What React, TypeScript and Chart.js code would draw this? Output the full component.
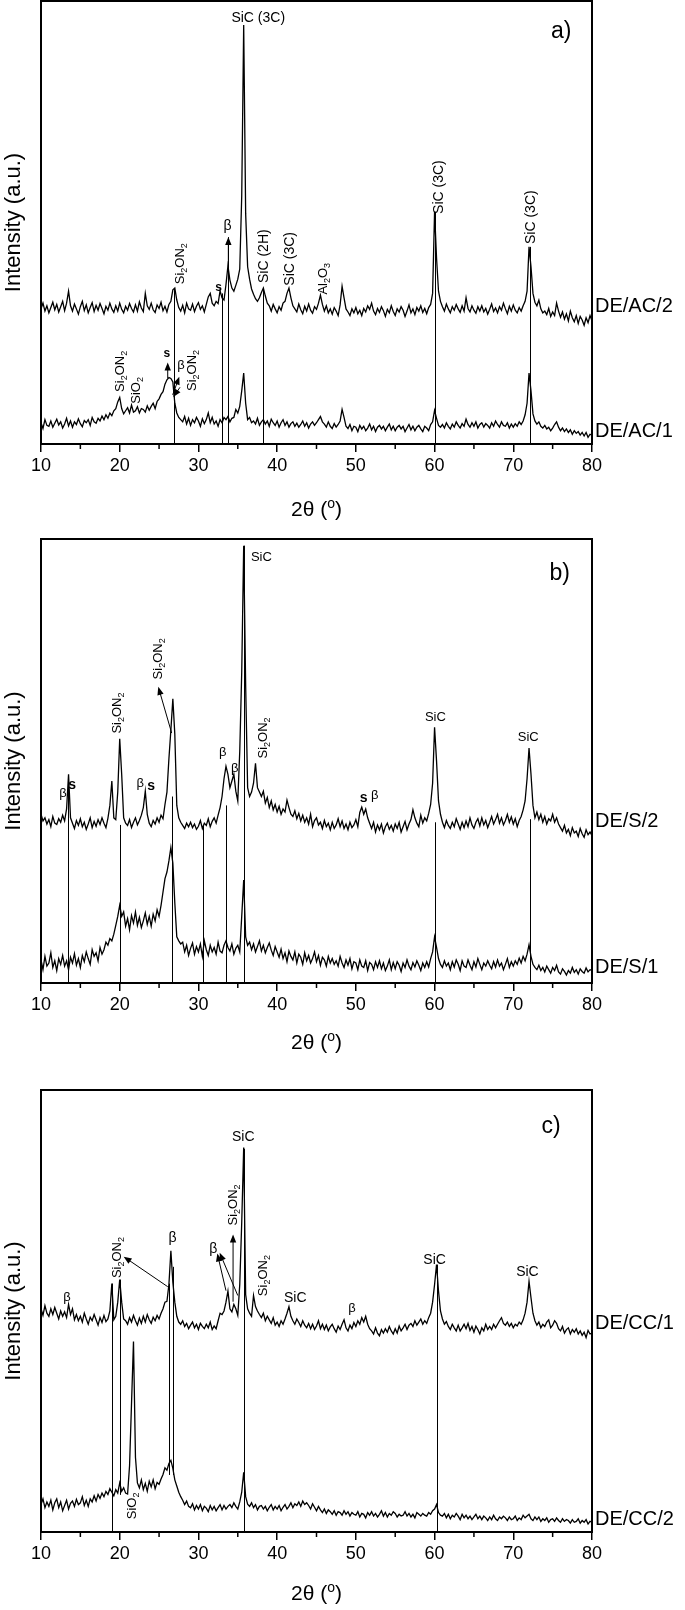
import React, { useEffect, useRef } from "react";
import { Chart, registerables } from "chart.js";

Chart.register(...registerables);

// 2θ grid of the digitised patterns: 10° to 80° in 0.25° steps (281 points)
const TWO_THETA_START = 10;
const TWO_THETA_STEP = 0.25;
const X_TICKS_STEP = 10;

// ---------- panel a) ----------
const DE_AC_2 = [
  305, 318, 300, 312, 296, 308, 320, 303, 315, 298, 310, 322, 301, 318, 345, 312,
  300, 316, 305, 293, 310, 322, 301, 314, 296, 308, 319, 299, 313, 302, 317, 306,
  294, 311, 302, 318, 305, 297, 312, 300, 318, 304, 296, 311, 302, 317, 306, 298,
  314, 300, 321, 307, 299, 340, 312, 304, 318, 303, 297, 314, 306, 320, 301, 311,
  298, 315, 322, 348, 352, 325, 308, 300, 313, 296, 318, 305, 302, 316, 299, 311,
  319, 304, 312, 298, 315, 332, 340, 318, 312, 322, 317, 346, 330, 325, 360, 402,
  370, 352, 345, 358, 372, 395, 560, 946, 520, 400, 372, 350, 338, 328, 322, 330,
  342, 352, 334, 318, 312, 300, 315, 305, 296, 310, 302, 318, 322, 340, 352, 330,
  312, 305, 298, 316, 303, 294, 311, 300, 316, 302, 295, 310, 304, 318, 336, 315,
  300, 312, 296, 305, 293, 308, 300, 290, 314, 356, 330, 305, 298, 290, 305, 296,
  308, 294, 302, 290, 306, 298, 312, 304, 318, 300, 292, 306, 297, 310, 301, 288,
  304, 296, 312, 299, 290, 305, 298, 310, 302, 288, 300, 314, 296, 305, 292, 308,
  300, 312, 297, 306, 294, 308, 315, 340, 524, 420, 345, 322, 310, 300, 316, 305,
  296, 310, 302, 315, 305, 297, 312, 300, 330, 306, 298, 312, 302, 295, 310, 300,
  312, 298, 306, 293, 304, 316, 299, 307, 296, 310, 302, 318, 305, 294, 311, 300,
  314, 302, 296, 308, 300, 312, 322, 345, 445, 400, 340, 320, 312, 325, 305, 296,
  300, 292, 306, 288, 298, 290, 318, 300, 286, 298, 282, 294, 278, 300, 285, 276,
  290, 272, 288, 280, 268, 285, 274, 290, 278,
];
const DE_AC_1 = [
  48, 35, 55, 42, 40, 52, 38, 47, 56, 43, 50, 36, 45, 58, 41, 52,
  38, 50, 44, 57, 46, 39, 53, 48, 55, 42, 60, 50, 47, 58, 52, 63,
  55, 66, 58, 70, 64, 75, 80, 95, 105, 80, 68, 75, 82, 70, 88, 72,
  75, 84, 70, 80, 78, 72, 86, 76, 85, 92, 80, 96, 102, 112, 118, 135,
  145, 150, 148, 140, 92, 70, 60, 55, 50, 62, 45, 58, 42, 55, 48, 60,
  52, 40, 57, 46, 55, 70, 48, 60, 45, 52, 40, 55, 48, 60, 55, 62,
  50, 58, 60, 78, 70, 85, 120, 160, 92, 55, 60, 48, 52, 45, 58, 42,
  50, 55, 45, 52, 40, 56, 48, 42, 52, 38, 48, 55, 42, 50, 38, 46,
  50, 40, 47, 38, 44, 52, 40, 48, 36, 45, 50, 42, 48, 55, 62, 50,
  45, 38, 50, 40, 35, 46, 38, 44, 52, 78, 60, 40, 35, 44, 30, 40,
  38, 28, 42, 34, 40, 30, 36, 45, 32, 40, 28, 38, 42, 34, 40, 30,
  38, 45, 32, 40, 30, 38, 42, 34, 40, 28, 36, 44, 32, 40, 30, 38,
  42, 34, 28, 40, 36, 30, 44, 50, 76, 58, 42, 38, 44, 36, 48, 40,
  34, 45, 38, 50, 42, 36, 46, 40, 56, 44, 38, 48, 40, 50, 36, 44,
  48, 38, 46, 42, 36, 48, 40, 52, 44, 38, 50, 42, 40, 48, 36, 45,
  38, 46, 40, 50, 44, 52, 66, 92, 160, 120, 68, 52, 45, 50, 40, 36,
  42, 34, 38, 30, 36, 44, 50, 38, 30, 36, 28, 34, 26, 32, 22, 30,
  24, 28, 20, 26, 18, 26, 15, 22, 20,
];

// ---------- panel b) ----------
const DE_S_2 = [
  380, 365, 372, 358, 368, 352, 375, 360, 357, 370, 362, 378, 365, 392, 470, 372,
  360, 348, 366, 355, 370, 352, 362, 346, 358, 372, 350, 364, 353, 368, 357, 372,
  360, 350, 371, 400, 455, 372, 368, 430, 550, 470, 372, 360, 355, 368, 350, 362,
  372, 356, 366, 378, 395, 432, 380, 360, 352, 366, 358, 372, 362, 378, 370, 402,
  430, 505, 570, 640, 560, 400, 372, 362, 355, 348, 360, 352, 362, 350, 358, 346,
  353, 366, 348, 360, 355, 370, 352, 364, 372, 360, 378, 395, 420, 460, 488, 470,
  440, 455, 470, 432, 410, 522, 700, 985, 670, 440, 420, 430, 450, 495, 440, 430,
  420, 432, 405, 418, 395, 410, 390, 402, 385, 398, 380, 392, 385, 412, 395, 380,
  375, 388, 370, 382, 365, 378, 362, 372, 358, 380, 352, 366, 372, 356, 362, 348,
  366, 352, 360, 345, 362, 348, 356, 370, 352, 365, 348, 358, 345, 362, 350, 356,
  368, 352, 384, 396, 380, 392, 372, 360, 348, 362, 340, 356, 345, 358, 338, 352,
  360, 346, 355, 342, 358, 348, 362, 340, 352, 364, 345, 358, 368, 390, 372, 360,
  352, 378, 360, 372, 365, 382, 402, 450, 576, 500, 410, 380, 362, 350, 366, 355,
  348, 362, 352, 370, 358, 346, 362, 350, 365, 352, 372, 356, 348, 362, 370, 354,
  372, 356, 366, 350, 362, 375, 358, 368, 380, 360, 372, 356, 366, 380, 362, 374,
  358, 370, 352, 366, 375, 390, 410, 460, 529, 470, 400, 372, 385, 368, 380, 362,
  375, 358, 370, 365, 380, 362, 372, 358, 350, 342, 355, 338, 346, 332, 350, 338,
  342, 330, 348, 336, 328, 345, 334, 340, 332,
];
const DE_S_1 = [
  52, 30, 60, 38, 45, 68, 35, 50, 28, 55, 42, 62, 38, 50, 30, 58,
  45, 66, 40, 55, 35, 62, 48, 70, 55, 42, 75, 60, 68, 50, 80, 65,
  75, 92, 85, 100, 95, 110, 130, 150, 175, 150, 160, 128, 145, 120, 152, 135,
  160, 130, 148, 125, 140, 158, 132, 150, 128, 155, 140, 165, 150, 175, 205, 235,
  250, 275, 305, 270, 180, 104, 95, 88, 92, 70, 85, 62, 78, 90, 65, 82,
  70, 88, 60, 95, 75, 62, 85, 70, 80, 65, 92, 72, 68, 85, 95, 80,
  72, 88, 65, 78, 85, 70, 150, 232, 104, 85, 92, 75, 88, 70, 82, 95,
  72, 85, 68, 80, 90, 74, 62, 82, 70, 58, 76, 55, 68, 48, 72, 60,
  52, 70, 45, 65, 58, 42, 68, 50, 62, 45, 55, 70, 48, 62, 40, 58,
  52, 38, 60, 45, 55, 42, 50, 38, 60, 45, 35, 52, 40, 55, 32, 48,
  45, 30, 52, 38, 35, 50, 28, 46, 42, 30, 48, 35, 50, 32, 45, 28,
  38, 52, 30, 46, 32, 48, 40, 26, 45, 35, 52, 38, 30, 46, 36, 50,
  40, 28, 45, 35, 48, 36, 55, 70, 104, 80, 55, 42, 35, 50, 38, 45,
  30, 48, 36, 52, 42, 28, 50, 38, 35, 52, 40, 30, 48, 36, 55, 42,
  30, 45, 38, 50, 40, 32, 48, 36, 52, 38, 45, 30, 42, 55, 35, 48,
  38, 50, 42, 56, 45, 60, 50, 65, 86, 60, 42, 35, 30, 40, 28, 35,
  25, 38, 30, 22, 35, 28, 40, 25, 20, 32, 26, 18, 28, 22, 35, 24,
  30, 20, 32, 26, 22, 34, 25, 30, 28,
];

// ---------- panel c) ----------
const DE_CC_1 = [
  505, 490, 512, 495, 488, 505, 492, 508, 495, 482, 500, 488, 498, 485, 515, 492,
  505, 480, 492, 478, 488, 475, 495, 482, 470, 486, 478, 492, 480, 468, 485, 474,
  490, 476, 482, 500, 562, 480, 488, 520, 571, 520, 482, 478, 470, 485, 475, 490,
  478, 468, 484, 472, 488, 475, 492, 480, 472, 486, 478, 490, 482, 495, 505, 520,
  522, 560, 636, 565, 520, 488, 475, 470, 478, 465, 472, 460, 468, 475, 462, 470,
  458, 472, 465, 460, 470, 462, 475, 458, 466, 460, 478, 495, 492, 500, 520, 545,
  505, 498, 515, 505, 490, 560, 700, 870, 537, 505, 495, 488, 535, 510, 500, 492,
  485, 495, 478, 488, 480, 472, 485, 468, 475, 465, 478, 470, 482, 495, 510, 488,
  478, 470, 482, 474, 465, 478, 468, 462, 472, 460, 470, 458, 466, 478, 460, 470,
  458, 468, 455, 464, 470, 460, 452, 466, 458, 470, 480, 462, 455, 468, 460, 474,
  465, 478, 470, 485, 475, 488, 470, 460, 455, 448, 462, 450, 444, 458, 450, 460,
  452, 465, 455, 448, 460, 450, 466, 455, 462, 470, 458, 468, 472, 465, 478, 468,
  475, 482, 470, 478, 472, 485, 495, 520, 560, 605, 545, 500, 482, 470, 476, 465,
  458, 470, 462, 455, 468, 455, 462, 470, 460, 472, 456, 465, 452, 466, 458, 448,
  462, 455, 470, 458, 465, 458, 470, 462, 470, 478, 485, 472, 468, 475, 465, 472,
  462, 470, 466, 475, 470, 480, 495, 520, 567, 530, 495, 478, 468, 475, 462, 470,
  465, 475, 480, 462, 468, 478, 472, 460, 455, 465, 450, 458, 462, 448, 458, 452,
  460, 448, 455, 445, 452, 440, 456, 448, 450,
];
const DE_CC_2 = [
  62, 75, 55, 68, 58, 72, 50, 66, 75, 55, 68, 48, 60, 72, 52, 65,
  70, 58, 74, 62, 66, 80, 60, 72, 58, 75, 68, 82, 70, 85, 76, 88,
  80, 92, 85, 98, 90, 82, 96, 88, 111, 92, 100, 88, 86, 150, 291, 431,
  169, 111, 100, 118, 96, 110, 92, 115, 102, 118, 98, 112, 108, 120, 130, 145,
  140, 155, 162, 144, 118, 104, 90, 80, 72, 62, 70, 58, 55, 64, 50, 60,
  52, 62, 48, 58, 54, 46, 60, 50, 58, 48, 55, 62, 50, 60, 52, 58,
  62, 55, 66, 58, 52, 68, 90, 135, 80, 63, 58, 66, 55, 62, 50, 58,
  60, 52, 58, 48, 56, 62, 50, 58, 52, 60, 48, 56, 62, 52, 58, 66,
  55, 64, 60, 68, 58, 70, 62, 66, 60, 52, 64, 56, 48, 58, 50, 44,
  52, 42, 50, 46, 40, 48, 38, 46, 44, 38, 48, 40, 46, 36, 44, 40,
  38, 46, 34, 42, 40, 32, 44, 38, 46, 36, 42, 34, 40, 48, 36, 44,
  34, 42, 38, 46, 42, 34, 40, 36, 38, 46, 36, 42, 34, 40, 32, 44,
  40, 36, 42, 38, 36, 44, 40, 48, 52, 62, 44, 38, 36, 42, 32, 40,
  30, 38, 34, 42, 36, 28, 40, 32, 38, 30, 36, 28, 34, 40, 30, 36,
  28, 36, 32, 26, 34, 28, 38, 30, 26, 34, 30, 36, 32, 26, 34, 28,
  30, 36, 26, 32, 28, 38, 32, 36, 40, 30, 26, 34, 28, 34, 24, 30,
  26, 32, 22, 28, 30, 24, 32, 26, 22, 30, 24, 28, 26, 20, 28, 22,
  24, 30, 20, 26, 22, 28, 18, 24, 22,
];

// ---------- annotations ----------
type Lbl = { x: number; y: number; t: string; rot?: boolean; size?: number; bold?: boolean };
type Seg = [number, number, number]; // [2θ, top intensity, bottom intensity]
type Arrow = [number, number, number, number];

const A_NAMES: [string, number][] = [["DE/AC/2", 310], ["DE/AC/1", 29]];
const A_DROPS: Seg[] = [[26.9, 352, 0], [32.95, 340, 0], [33.8, 467, 0], [38.15, 352, 0], [60.1, 524, 0], [72.1, 445, 0]];
const A_ARROWS: Arrow[] = [[33.8, 400, 33.8, 467], [26.1, 148, 26.1, 184], [26.73, 111, 27.57, 152], [27.66, 128, 26.8, 106]];
const A_LABELS: Lbl[] = [
  { x: 37.6, y: 962, t: "SiC (3C)", size: 14 },
  { x: 76.1, y: 930, t: "a)", size: 23 },
  { x: 27.7, y: 407, t: "Si_2ON_2", rot: true },
  { x: 33.7, y: 492, t: "β", size: 14 },
  { x: 32.55, y: 352, t: "s", bold: true, size: 12 },
  { x: 38.4, y: 424, t: "SiC (2H)", rot: true, size: 14 },
  { x: 41.7, y: 418, t: "SiC (3C)", rot: true, size: 14 },
  { x: 45.9, y: 373, t: "Al_2O_3", rot: true },
  { x: 60.6, y: 580, t: "SiC (3C)", rot: true, size: 14 },
  { x: 72.3, y: 512, t: "SiC (3C)", rot: true, size: 14 },
  { x: 20.1, y: 164, t: "Si_2ON_2", rot: true },
  { x: 22.1, y: 121, t: "SiO_2", rot: true },
  { x: 26.0, y: 204, t: "s", bold: true, size: 12 },
  { x: 27.8, y: 177, t: "β" },
  { x: 29.2, y: 166, t: "Si_2ON_2", rot: true },
];

const B_NAMES: [string, number][] = [["DE/S/2", 363], ["DE/S/1", 34]];
const B_DROPS: Seg[] = [[13.45, 464, 0], [20.0, 356, 0], [26.6, 420, 0], [30.55, 356, 0], [33.55, 400, 0], [35.75, 985, 0], [60.1, 362, 0], [72.1, 369, 0]];
const B_ARROWS: Arrow[] = [[26.6, 563, 24.9, 667]];
const B_LABELS: Lbl[] = [
  { x: 75.9, y: 923, t: "b)", size: 23 },
  { x: 38.0, y: 959, t: "SiC" },
  { x: 12.8, y: 428, t: "β" },
  { x: 13.95, y: 446, t: "s", bold: true, size: 14 },
  { x: 19.7, y: 608, t: "Si_2ON_2", rot: true },
  { x: 22.6, y: 450, t: "β" },
  { x: 24.0, y: 444, t: "s", bold: true, size: 14 },
  { x: 24.9, y: 730, t: "Si_2ON_2", rot: true },
  { x: 33.1, y: 520, t: "β" },
  { x: 34.6, y: 484, t: "β" },
  { x: 38.2, y: 552, t: "Si_2ON_2", rot: true },
  { x: 51.0, y: 417, t: "s", bold: true, size: 14 },
  { x: 52.4, y: 423, t: "β" },
  { x: 60.1, y: 599, t: "SiC" },
  { x: 71.9, y: 552, t: "SiC" },
];

const C_NAMES: [string, number][] = [["DE/CC/1", 472], ["DE/CC/2", 29]];
const C_DROPS: Seg[] = [[19.0, 562, 0], [20.0, 571, 84], [26.2, 562, 129], [26.75, 600, 129], [35.75, 867, 0], [60.25, 605, 0]];
const C_ARROWS: Arrow[] = [[26.1, 555, 20.5, 623], [33.5, 546, 32.4, 630], [35.0, 535, 32.7, 632], [34.4, 521, 34.4, 673]];
const C_LABELS: Lbl[] = [
  { x: 74.8, y: 916, t: "c)", size: 23 },
  { x: 35.7, y: 894, t: "SiC", size: 14 },
  { x: 13.3, y: 530, t: "β" },
  { x: 19.7, y: 621, t: "Si_2ON_2", rot: true },
  { x: 26.7, y: 664, t: "β", size: 14 },
  { x: 31.9, y: 641, t: "β", size: 14 },
  { x: 34.4, y: 740, t: "Si_2ON_2", rot: true },
  { x: 38.2, y: 580, t: "Si_2ON_2", rot: true },
  { x: 42.3, y: 530, t: "SiC", size: 14 },
  { x: 49.5, y: 506, t: "β" },
  { x: 60.0, y: 616, t: "SiC", size: 14 },
  { x: 71.8, y: 589, t: "SiC", size: 14 },
  { x: 21.6, y: 59, t: "SiO_2", rot: true },
];

const FONT = '"Liberation Sans", Arial, Helvetica, sans-serif';

function drawRich(ctx: CanvasRenderingContext2D, text: string, x: number, y: number, size: number, bold: boolean, rot: boolean, align: "left" | "center") {
  const segs: { s: string; k: string; w: number }[] = [];
  let i = 0;
  while (i < text.length) {
    const c = text[i];
    if (c === "_" || c === "^") {
      segs.push({ s: text[i + 1], k: c, w: 0 });
      i += 2;
    } else {
      let j = i;
      while (j < text.length && text[j] !== "_" && text[j] !== "^") j++;
      segs.push({ s: text.slice(i, j), k: "", w: 0 });
      i = j;
    }
  }
  const fnt = (k: string) => `${bold ? "bold " : ""}${k ? Math.round(size * 0.68) : size}px ${FONT}`;
  let w = 0;
  for (const s of segs) {
    ctx.font = fnt(s.k);
    s.w = ctx.measureText(s.s).width;
    w += s.w;
  }
  ctx.save();
  ctx.translate(x, y);
  if (rot) ctx.rotate(-Math.PI / 2);
  ctx.textBaseline = "middle";
  ctx.textAlign = "left";
  ctx.fillStyle = "#000";
  let cx = align === "left" ? 0 : -w / 2;
  for (const s of segs) {
    ctx.font = fnt(s.k);
    const dy = s.k === "_" ? size * 0.32 : s.k === "^" ? -size * 0.3 : 0;
    ctx.fillText(s.s, cx, dy);
    cx += s.w;
  }
  ctx.restore();
}

function drawArrow(ctx: CanvasRenderingContext2D, x1: number, y1: number, x2: number, y2: number) {
  const ang = Math.atan2(y2 - y1, x2 - x1);
  const L = 8, H = 3.2;
  ctx.beginPath();
  ctx.moveTo(x1, y1);
  ctx.lineTo(x2 - Math.cos(ang) * L * 0.8, y2 - Math.sin(ang) * L * 0.8);
  ctx.stroke();
  ctx.beginPath();
  ctx.moveTo(x2, y2);
  ctx.lineTo(x2 - Math.cos(ang) * L - Math.sin(ang) * H, y2 - Math.sin(ang) * L + Math.cos(ang) * H);
  ctx.lineTo(x2 - Math.cos(ang) * L + Math.sin(ang) * H, y2 - Math.sin(ang) * L - Math.cos(ang) * H);
  ctx.closePath();
  ctx.fill();
}

type PanelCfg = {
  top: number;
  height: number;
  padTop: number;
  axisH: number;
  titleGap: number;
  upper: number[];
  lower: number[];
  names: [string, number][];
  drops: Seg[];
  arrows: Arrow[];
  labels: Lbl[];
};

const PANELS: PanelCfg[] = [
  { top: 0, height: 528, padTop: 1, axisH: 84, titleGap: 66, upper: DE_AC_2, lower: DE_AC_1, names: A_NAMES, drops: A_DROPS, arrows: A_ARROWS, labels: A_LABELS },
  { top: 528, height: 532, padTop: 11, axisH: 77, titleGap: 60, upper: DE_S_2, lower: DE_S_1, names: B_NAMES, drops: B_DROPS, arrows: B_ARROWS, labels: B_LABELS },
  { top: 1060, height: 550, padTop: 30, axisH: 78, titleGap: 62, upper: DE_CC_1, lower: DE_CC_2, names: C_NAMES, drops: C_DROPS, arrows: C_ARROWS, labels: C_LABELS },
];

function toPoints(vals: number[]) {
  return vals.map((v, i) => ({ x: TWO_THETA_START + i * TWO_THETA_STEP, y: v }));
}

function Panel({ cfg }: { cfg: PanelCfg }) {
  const ref = useRef<HTMLCanvasElement>(null);
  useEffect(() => {
    const canvas = ref.current;
    if (!canvas) return;
    const overlay = {
      id: "xrdOverlay",
      beforeDatasetsDraw(chart: any) {
        const ctx = chart.ctx as CanvasRenderingContext2D;
        const xs = chart.scales.x, ys = chart.scales.y;
        ctx.save();
        ctx.strokeStyle = "#000";
        ctx.lineWidth = 1;
        for (const [x, t, b] of cfg.drops) {
          const px = Math.round(xs.getPixelForValue(x)) + 0.5;
          ctx.beginPath();
          ctx.moveTo(px, ys.getPixelForValue(t));
          ctx.lineTo(px, ys.getPixelForValue(b));
          ctx.stroke();
        }
        ctx.restore();
      },
      afterDraw(chart: any) {
        const ctx = chart.ctx as CanvasRenderingContext2D;
        const xs = chart.scales.x, ys = chart.scales.y;
        const ca = chart.chartArea;
        ctx.save();
        // minor ticks
        ctx.strokeStyle = "#000";
        ctx.lineWidth = 1.5;
        for (let v = 15; v < 80; v += X_TICKS_STEP) {
          const px = xs.getPixelForValue(v);
          ctx.beginPath();
          ctx.moveTo(px, ca.bottom);
          ctx.lineTo(px, ca.bottom + 5);
          ctx.stroke();
        }
        // frame
        ctx.lineWidth = 2;
        ctx.strokeRect(ca.left, ca.top, ca.right - ca.left, ca.bottom - ca.top);
        // arrows
        ctx.lineWidth = 1;
        ctx.fillStyle = "#000";
        for (const [x1, y1, x2, y2] of cfg.arrows) {
          drawArrow(ctx, xs.getPixelForValue(x1), ys.getPixelForValue(y1), xs.getPixelForValue(x2), ys.getPixelForValue(y2));
        }
        // peak labels
        for (const l of cfg.labels) {
          drawRich(ctx, l.t, xs.getPixelForValue(l.x), ys.getPixelForValue(l.y), l.size ?? 13, !!l.bold, !!l.rot, "center");
        }
        // series names
        for (const [n, v] of cfg.names) {
          drawRich(ctx, n, ca.right + 3, ys.getPixelForValue(v), 20, false, false, "left");
        }
        // axis titles
        drawRich(ctx, "Intensity (a.u.)", 14, (ca.top + ca.bottom) / 2, 22, false, true, "center");
        drawRich(ctx, "2θ (^o)", (ca.left + ca.right) / 2, ca.bottom + cfg.titleGap, 21, false, false, "center");
        ctx.restore();
      },
    };
    const chart = new Chart(canvas, {
      type: "line",
      data: {
        datasets: [
          { data: toPoints(cfg.upper), borderColor: "#000", borderWidth: 1.3, pointRadius: 0, tension: 0 },
          { data: toPoints(cfg.lower), borderColor: "#000", borderWidth: 1.3, pointRadius: 0, tension: 0 },
        ],
      },
      options: {
        animation: false,
        responsive: false,
        devicePixelRatio: 1,
        events: [],
        layout: { padding: { left: 41, right: 93, top: cfg.padTop, bottom: 0 } },
        plugins: { legend: { display: false }, tooltip: { enabled: false }, title: { display: false } },
        scales: {
          x: {
            type: "linear",
            min: 10,
            max: 80,
            ticks: { stepSize: X_TICKS_STEP, color: "#000", font: { size: 18, family: FONT }, padding: 3, maxRotation: 0, autoSkip: false },
            grid: { drawOnChartArea: false, drawTicks: true, tickLength: 8, color: "#000", lineWidth: 1.5 },
            border: { display: false },
            afterFit: (s: any) => { s.height = cfg.axisH; },
          },
          y: { display: false, min: 0, max: 1000 },
        },
      },
      plugins: [overlay],
    } as any);
    return () => chart.destroy();
  }, [cfg]);
  return (
    <canvas
      ref={ref}
      width={685}
      height={cfg.height}
      style={{ position: "absolute", left: 0, top: cfg.top, width: 685, height: cfg.height, display: "block" }}
    />
  );
}

export default function App() {
  return (
    <div style={{ position: "absolute", left: 0, top: 0, width: 685, height: 1610, background: "#fff" }}>
      {PANELS.map((p, i) => (
        <Panel key={i} cfg={p} />
      ))}
    </div>
  );
}
